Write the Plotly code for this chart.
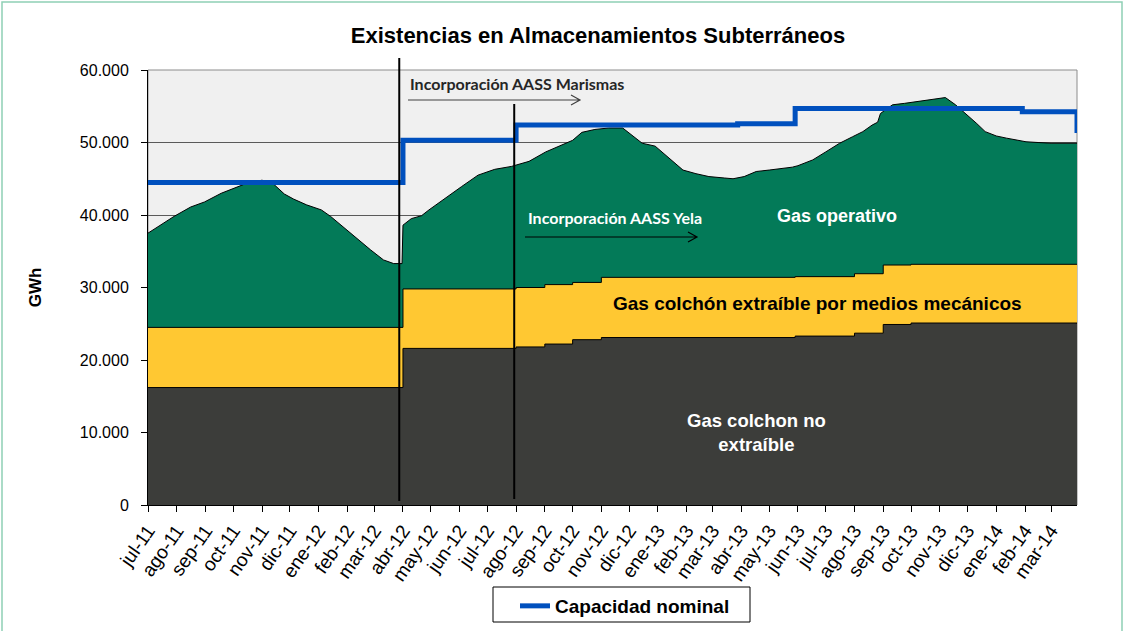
import plotly.graph_objects as go

# ---------------- data (GWh) ----------------
# Total stock (top of "Gas operativo")
total_fechas = [
    "2011-07-01", "2011-07-14", "2011-07-29", "2011-08-16", "2011-08-31", "2011-09-18",
    "2011-10-02", "2011-10-16", "2011-11-01", "2011-11-14", "2011-11-25", "2011-12-05",
    "2011-12-19", "2012-01-04", "2012-01-14", "2012-01-29", "2012-02-12", "2012-02-26",
    "2012-03-11", "2012-03-22", "2012-03-31",
    "2012-04-01", "2012-04-10", "2012-04-21", "2012-04-29", "2012-05-16", "2012-06-03",
    "2012-06-21", "2012-07-09", "2012-07-27", "2012-08-15", "2012-09-02", "2012-09-20",
    "2012-10-01", "2012-10-11", "2012-10-25", "2012-11-09", "2012-11-24", "2012-12-04",
    "2012-12-15", "2012-12-29", "2013-01-13", "2013-01-28", "2013-02-11", "2013-02-25",
    "2013-03-14", "2013-03-23", "2013-04-04", "2013-04-17", "2013-05-01", "2013-05-16",
    "2013-05-26", "2013-06-01", "2013-06-17", "2013-07-01", "2013-07-16", "2013-07-30",
    "2013-08-10", "2013-08-20", "2013-08-26", "2013-08-29", "2013-09-11", "2013-09-24",
    "2013-10-06", "2013-10-22", "2013-11-07", "2013-11-18", "2013-12-01", "2013-12-11",
    "2013-12-20", "2014-01-01", "2014-01-12", "2014-02-02", "2014-02-15", "2014-03-01",
    "2014-03-29",
]
total_gwh = [
    37500, 38600, 39800, 41100, 41800, 43000,
    43700, 44400, 44800, 44200, 42900, 42200,
    41400, 40700, 39800, 38200, 36600, 35200,
    33800, 33300, 33300,
    38600, 39500, 39900, 40700, 42300, 43900,
    45500, 46300, 46700, 47400, 48700, 49700,
    50300, 51400, 51800, 52000, 52000, 51000,
    49900, 49500, 47800, 46200, 45700, 45300,
    45100, 45000, 45300, 46000, 46200, 46400,
    46600, 46800, 47600, 48700, 49900, 50800,
    51500, 52400, 52800, 54000, 55200, 55400,
    55600, 55900, 56200, 55200, 53800, 52600,
    51500, 50900, 50600, 50100, 50000, 49900,
    49900,
]

# Cushion gas (step series)
colchon_fechas = [
    "2011-07-01", "2012-04-01", "2012-08-01", "2012-09-01", "2012-10-01", "2012-11-01",
    "2013-05-29", "2013-08-01", "2013-09-01", "2013-10-01", "2014-03-29",
]
colchon_no_extraible = [16200, 21600, 21800, 22200, 22800, 23100, 23300, 23700, 24900, 25100, 25000]
colchon_extraible = [8300, 8200, 8200, 8200, 7900, 8300, 8200, 8200, 8200, 8100, 8200]

# Nominal capacity (step series)
capacidad_fechas = ["2011-07-01", "2012-04-01", "2012-08-01", "2013-03-28", "2013-05-29",
                    "2014-01-29", "2014-03-28", "2014-03-29"]
capacidad_gwh = [44500, 50300, 52400, 52600, 54700, 54250, 54250, 51300]

# Axis ticks
mes_fechas = [f"{y}-{m:02d}-01" for y, m in
              [(2011, m) for m in range(7, 13)] + [(2012, m) for m in range(1, 13)]
              + [(2013, m) for m in range(1, 13)] + [(2014, m) for m in range(1, 4)]]
mes_etiquetas = ["jul-11", "ago-11", "sep-11", "oct-11", "nov-11", "dic-11",
                 "ene-12", "feb-12", "mar-12", "abr-12", "may-12", "jun-12",
                 "jul-12", "ago-12", "sep-12", "oct-12", "nov-12", "dic-12",
                 "ene-13", "feb-13", "mar-13", "abr-13", "may-13", "jun-13",
                 "jul-13", "ago-13", "sep-13", "oct-13", "nov-13", "dic-13",
                 "ene-14", "feb-14", "mar-14"]
y_ticks = [0, 10000, 20000, 30000, 40000, 50000, 60000]
y_etiquetas = ["0", "10.000", "20.000", "30.000", "40.000", "50.000", "60.000"]

# ---------------- figure ----------------
W, H = 1127, 631
L, R, T, B = 148, 50, 70, 126
PW, PH = W - L - R, H - T - B


def px(x):
    return (x - L) / PW


def py(y):
    return (H - B - y) / PH


GREEN = "#037A58"
YELLOW = "#FFC832"
DARK = "#3C3D3A"
BLUE = "#0050BE"
FONT = "Liberation Sans, Arial, sans-serif"

fig = go.Figure()

fig.add_trace(go.Scatter(x=total_fechas, y=total_gwh, mode="lines", fill="tozeroy",
                         fillcolor=GREEN, line=dict(color="black", width=1),
                         showlegend=False, hoverinfo="skip"))

colchon_total = [a + b for a, b in zip(colchon_no_extraible, colchon_extraible)]
fig.add_trace(go.Scatter(x=colchon_fechas, y=colchon_total, mode="lines", fill="tozeroy",
                         fillcolor=YELLOW, line=dict(color="black", width=1, shape="hv"),
                         showlegend=False, hoverinfo="skip"))
fig.add_trace(go.Scatter(x=colchon_fechas, y=colchon_no_extraible, mode="lines", fill="tozeroy",
                         fillcolor=DARK, line=dict(color="black", width=1, shape="hv"),
                         showlegend=False, hoverinfo="skip"))
fig.add_trace(go.Scatter(x=capacidad_fechas, y=capacidad_gwh, mode="lines",
                         line=dict(color=BLUE, width=5, shape="hv"),
                         name="<b>Capacidad nominal</b>"))

shapes = []
# vertical marker lines
shapes.append(dict(type="line", xref="x", yref="paper", x0="2012-03-28", x1="2012-03-28",
                   y0=py(501), y1=py(58), line=dict(color="black", width=2), layer="above"))
shapes.append(dict(type="line", xref="x", yref="paper", x0="2012-07-30", x1="2012-07-30",
                   y0=py(499), y1=py(104), line=dict(color="black", width=2), layer="above"))


def arrow(x0, x1, y, color):
    path = (f"M {px(x0)},{py(y)} L {px(x1)},{py(y)} "
            f"M {px(x1 - 9)},{py(y - 5)} L {px(x1)},{py(y)} L {px(x1 - 9)},{py(y + 5)}")
    return dict(type="path", xref="paper", yref="paper", path=path,
                line=dict(color=color, width=1.2), layer="above")


shapes.append(arrow(408, 580, 100, "#404040"))
shapes.append(arrow(525, 697, 237, "black"))
# plot area border (top/right)
shapes.append(dict(type="rect", xref="paper", yref="paper", x0=0, x1=1, y0=0, y1=1,
                   line=dict(color="#8c8c8c", width=1), layer="below"))
# outer chart border
shapes.append(dict(type="rect", xref="paper", yref="paper", x0=px(2), x1=px(1122),
                   y0=py(640), y1=py(2), line=dict(color="#8fd0b5", width=1.5), layer="above"))
# legend box
shapes.append(dict(type="rect", xref="paper", yref="paper", x0=px(493), x1=px(750),
                   y0=py(622), y1=py(587), line=dict(color="black", width=1),
                   fillcolor="white", layer="below"))

annotations = [
    dict(text="<b>Incorporación AASS Marismas</b>", x=px(408), y=py(83), xanchor="left",
         font=dict(family="Lato, sans-serif", size=16, color="#262626")),
    dict(text="<b>Incorporación AASS Yela</b>", x=px(526), y=py(217), xanchor="left",
         font=dict(family="Lato, sans-serif", size=16, color="white")),
    dict(text="<b>Gas operativo</b>", x=px(837), y=py(216), xanchor="center",
         font=dict(family=FONT, size=18, color="white")),
    dict(text="<b>Gas colchón extraíble por medios mecánicos</b>", x=px(817), y=py(303),
         xanchor="center", font=dict(family=FONT, size=19, color="black")),
    dict(text="<b>Gas colchon no<br>extraíble</b>", x=px(756), y=py(432), xanchor="center",
         font=dict(family=FONT, size=18.5, color="white")),
]
for a in annotations:
    a.update(xref="paper", yref="paper", yanchor="middle", showarrow=False)

fig.update_layout(
    width=W, height=H,
    margin=dict(l=L, r=R, t=T, b=B, autoexpand=False),
    paper_bgcolor="white",
    plot_bgcolor="#F0F0F0",
    font=dict(family=FONT, size=16, color="black"),
    title=dict(text="<b>Existencias en Almacenamientos Subterráneos</b>",
               x=598 / W, xref="container", xanchor="center",
               y=1 - 35 / H, yref="container", yanchor="middle",
               font=dict(family=FONT, size=22, color="black")),
    xaxis=dict(type="date", range=["2011-07-01", "2014-03-29"],
               tickvals=mes_fechas, ticktext=mes_etiquetas, tickangle=-55,
               ticks="outside", ticklen=6, tickcolor="black",
               showline=True, linecolor="black", linewidth=1,
               showgrid=False, zeroline=False, automargin=False,
               tickfont=dict(family=FONT, size=19, color="black")),
    yaxis=dict(range=[0, 60000], tickvals=y_ticks, ticktext=y_etiquetas,
               ticks="outside", ticklen=6, tickcolor="black",
               showline=True, linecolor="black", linewidth=1,
               showgrid=True, gridcolor="#5a5a5a", gridwidth=1, zeroline=False,
               ticklabelstandoff=9, automargin=False,
               tickfont=dict(family=FONT, size=16, color="black"),
               title=dict(text="<b>GWh</b>", standoff=33,
                          font=dict(family=FONT, size=17, color="black"))),
    legend=dict(orientation="h", xref="container", yref="container",
                x=515 / W, xanchor="left", y=1 - 587 / H, yanchor="top",
                borderwidth=0, bgcolor="rgba(0,0,0,0)",
                font=dict(family=FONT, size=19, color="black")),
    shapes=shapes,
    annotations=annotations,
)

fig.write_html("out.html", config={"displayModeBar": False},
               post_script="document.body.style.margin='0px';")
